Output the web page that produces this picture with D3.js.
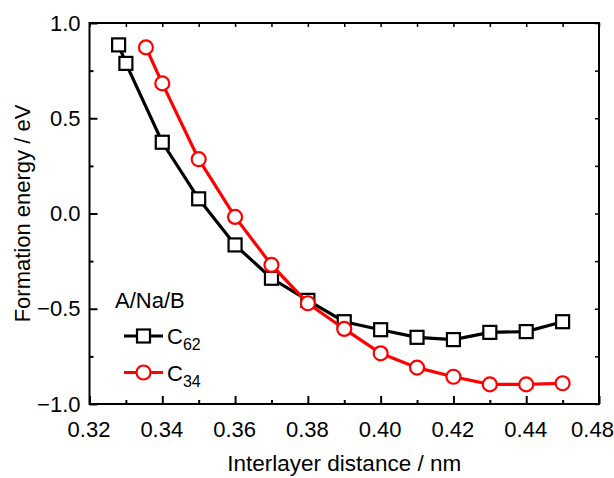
<!DOCTYPE html>
<html>
<head>
<meta charset="utf-8">
<script src="https://cdn.jsdelivr.net/npm/d3@7"></script>
<style>
	body { margin: 0; background: #fff; }
	svg { display: block; font-family: "Liberation Sans", Arial, sans-serif; }
</style>
</head>
<body>
<svg id="chart" width="614" height="478"></svg>
<script>
'use strict';

// C62 series (black squares)
const c62X = [0.328, 0.330, 0.34, 0.35, 0.36, 0.37, 0.38, 0.39, 0.40, 0.41, 0.42, 0.43, 0.44, 0.45];
const c62Y = [0.885, 0.788, 0.374, 0.077, -0.165, -0.340, -0.456, -0.568, -0.610, -0.650, -0.662, -0.624, -0.620, -0.568];

// C34 series (red circles)
const c34X = [0.3355, 0.34, 0.35, 0.36, 0.37, 0.38, 0.39, 0.40, 0.41, 0.42, 0.43, 0.44, 0.45];
const c34Y = [0.872, 0.683, 0.285, -0.018, -0.270, -0.471, -0.606, -0.734, -0.809, -0.857, -0.897, -0.897, -0.891];

// tick values, and the labels printed under them (the last one reads 0.48 in the original)
const xTickValues = [0.32, 0.34, 0.36, 0.38, 0.40, 0.42, 0.44, 0.46];
const xTickLabels = ['0.32', '0.34', '0.36', '0.38', '0.40', '0.42', '0.44', '0.48'];
const xMinorValues = [0.33, 0.35, 0.37, 0.39, 0.41, 0.43, 0.45];
const yTickValues = [-1.0, -0.5, 0.0, 0.5, 1.0];
const yMinorValues = [-0.75, -0.25, 0.25, 0.75];

const legendTitle = 'A/Na/B';
const legendItems = [
	{base: 'C', sub: '62', colour: 'black', symbol: 'square'},
	{base: 'C', sub: '34', colour: 'red', symbol: 'circle'},
];

const plotLeft = 89.5, plotRight = 599, plotTop = 23, plotBottom = 404;

const svg = d3.select('#chart');

const x = d3.scaleLinear().domain([0.32, 0.46]).range([plotLeft, plotRight]);
const y = d3.scaleLinear().domain([-1, 1]).range([plotBottom, plotTop]);

const fontSize = 22;
const fontFamily = '"Liberation Sans", Arial, sans-serif';

// frame
svg.append('rect')
	.attr('x', plotLeft).attr('y', plotTop)
	.attr('width', plotRight - plotLeft).attr('height', plotBottom - plotTop)
	.attr('fill', 'none').attr('stroke', 'black').attr('stroke-width', 2);

// bottom axis, ticks pointing inward
let bottomAxis = svg.append('g')
	.attr('transform', `translate(0,${plotBottom})`)
	.call(d3.axisBottom(x).tickValues(xTickValues).tickSizeInner(-8).tickSizeOuter(0)
		.tickFormat((d, i) => xTickLabels[i]));
bottomAxis.select('.domain').remove();
bottomAxis.selectAll('.tick line').attr('stroke-width', 2);
bottomAxis.selectAll('.tick text')
	.attr('y', 17).attr('dy', '0.71em')
	.attr('dx', (d, i) => i === xTickValues.length - 1 ? -7 : -1)
	.attr('font-size', fontSize).attr('font-family', fontFamily);

let bottomMinor = svg.append('g')
	.attr('transform', `translate(0,${plotBottom})`)
	.call(d3.axisBottom(x).tickValues(xMinorValues).tickSizeInner(-4).tickSizeOuter(0).tickFormat(''));
bottomMinor.select('.domain').remove();
bottomMinor.selectAll('.tick line').attr('stroke-width', 2);

// top axis, only ticks
let topAxis = svg.append('g')
	.attr('transform', `translate(0,${plotTop})`)
	.call(d3.axisTop(x).tickValues(xTickValues.concat(xMinorValues)).tickSizeInner(-4).tickSizeOuter(0).tickFormat(''));
topAxis.select('.domain').remove();
topAxis.selectAll('.tick line').attr('stroke-width', 1.5);

// left axis
let leftAxis = svg.append('g')
	.attr('transform', `translate(${plotLeft},0)`)
	.call(d3.axisLeft(y).tickValues(yTickValues).tickSizeInner(-8).tickSizeOuter(0).tickFormat(d3.format('.1f')));
leftAxis.select('.domain').remove();
leftAxis.selectAll('.tick line').attr('stroke-width', 2);
leftAxis.selectAll('.tick text')
	.attr('x', -9)
	.attr('font-size', fontSize).attr('font-family', fontFamily);

let leftMinor = svg.append('g')
	.attr('transform', `translate(${plotLeft},0)`)
	.call(d3.axisLeft(y).tickValues(yMinorValues).tickSizeInner(-4).tickSizeOuter(0).tickFormat(''));
leftMinor.select('.domain').remove();
leftMinor.selectAll('.tick line').attr('stroke-width', 2);

// right axis, only ticks
let rightAxis = svg.append('g')
	.attr('transform', `translate(${plotRight},0)`)
	.call(d3.axisRight(y).tickValues(yTickValues.concat(yMinorValues)).tickSizeInner(-4).tickSizeOuter(0).tickFormat(''));
rightAxis.select('.domain').remove();
rightAxis.selectAll('.tick line').attr('stroke-width', 1.5);

// axis titles
svg.append('text')
	.attr('x', (plotLeft + plotRight) / 2).attr('y', 471)
	.attr('text-anchor', 'middle')
	.attr('font-size', 22.5)
	.text('Interlayer distance / nm');

svg.append('text')
	.attr('transform', `translate(30,${(plotTop + plotBottom) / 2}) rotate(-90)`)
	.attr('text-anchor', 'middle')
	.attr('font-size', 22)
	.text('Formation energy / eV');

// series
const line = d3.line().x(d => x(d[0])).y(d => y(d[1]));
const c62 = d3.zip(c62X, c62Y);
const c34 = d3.zip(c34X, c34Y);

const plot = svg.append('g');

function drawSquare(g, px, py, colour){
	g.append('rect')
		.attr('x', px - 6.5).attr('y', py - 6.5)
		.attr('width', 13).attr('height', 13)
		.attr('fill', 'white').attr('stroke', colour).attr('stroke-width', 2.2);
}
function drawCircle(g, px, py, colour){
	g.append('circle')
		.attr('cx', px).attr('cy', py).attr('r', 7)
		.attr('fill', 'white').attr('stroke', colour).attr('stroke-width', 2.2);
}

plot.append('path').datum(c62)
	.attr('d', line).attr('fill', 'none').attr('stroke', 'black').attr('stroke-width', 3.2);
c62.forEach(d => drawSquare(plot, x(d[0]), y(d[1]), 'black'));

plot.append('path').datum(c34)
	.attr('d', line).attr('fill', 'none').attr('stroke', 'red').attr('stroke-width', 3.2);
c34.forEach(d => drawCircle(plot, x(d[0]), y(d[1]), 'red'));

// legend
const legend = svg.append('g');
legend.append('text')
	.attr('x', 115).attr('y', 308)
	.attr('font-size', 22)
	.text(legendTitle);

legendItems.forEach((item, i) => {
	let ly = 336 + i * 36.5;
	legend.append('line')
		.attr('x1', 124).attr('x2', 163)
		.attr('y1', ly).attr('y2', ly)
		.attr('stroke', item.colour).attr('stroke-width', 3.2);
	if(item.symbol === 'square'){
		drawSquare(legend, 143.5, ly, item.colour);
	}
	else{
		drawCircle(legend, 143.5, ly, item.colour);
	}
	let t = legend.append('text')
		.attr('x', 167).attr('y', ly + 8)
		.attr('font-size', 22);
	t.append('tspan').text(item.base);
	t.append('tspan').attr('font-size', 16).attr('dy', 6).text(item.sub);
});
</script>
</body>
</html>
